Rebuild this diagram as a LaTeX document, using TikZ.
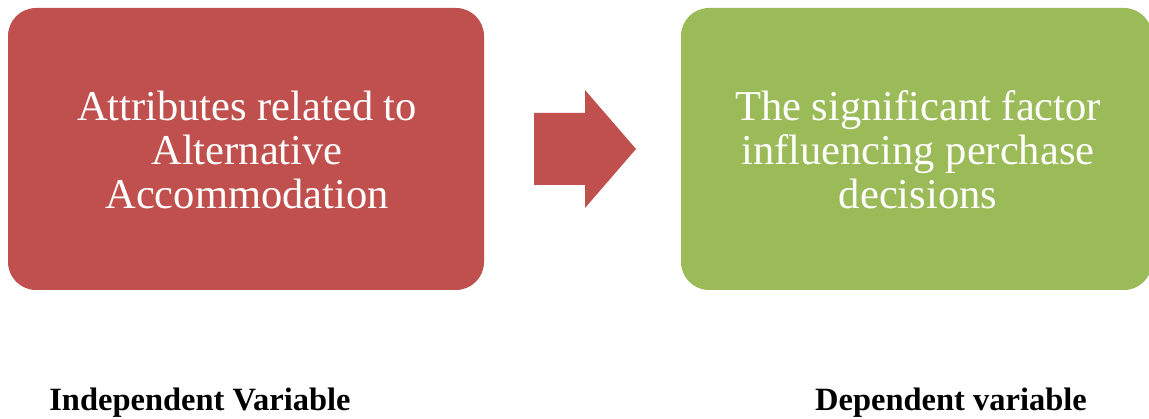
\documentclass[tikz,border=0pt]{standalone}
\usepackage{fontspec}
\setmainfont{Liberation Serif}
\definecolor{boxred}{HTML}{C0504D}
\definecolor{boxgreen}{HTML}{9BBB59}
\begin{document}
\begin{tikzpicture}[x=1pt,y=-1pt,
  box/.style={rounded corners=28pt},
  boxtext/.style={text=white,align=center,font=\fontsize{42.5}{44}\selectfont},
  label/.style={font=\bfseries\fontsize{32.5}{36}\selectfont,anchor=base}]
\useasboundingbox (0,0) rectangle (1149,419);
\fill[boxred,box] (8,8) rectangle (484,290);
\node[boxtext] (a) at (247,150) {Attributes related to\\Alternative\\Accommodation};
\fill[boxgreen,box] (681,8) rectangle (1152,290);
\node[boxtext] (b) at (918,150) {The significant factor\\influencing perchase\\decisions};
\fill[boxred] (534,113) -- (585,113) -- (585,90) -- (636,149) -- (585,208) -- (585,185) -- (534,185) -- cycle;
\node[label] (l1) at (200,411) {Independent Variable};
\node[label] (l2) at (951,411) {Dependent variable};
\end{tikzpicture}
\end{document}
